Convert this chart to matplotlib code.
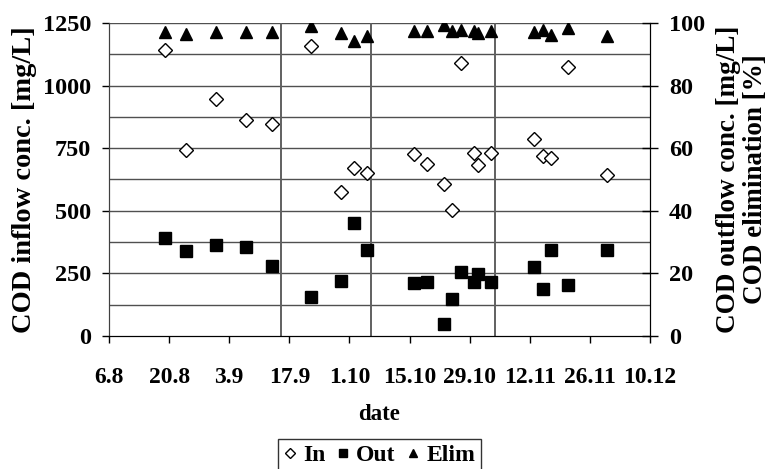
import datetime as dt
import matplotlib
matplotlib.use("Agg")
import matplotlib.pyplot as plt

plt.rcParams['font.family'] = ['Liberation Serif', 'DejaVu Serif']
plt.rcParams['font.weight'] = 'bold'
plt.rcParams['axes.labelweight'] = 'bold'

YEAR = 2003

# sampling dates (day.month) and measured values
dates = ["19.8", "24.8", "31.8", "7.9", "13.9",
         "22.9", "29.9", "2.10", "5.10",
         "16.10", "19.10", "23.10", "25.10", "27.10", "30.10", "31.10", "3.11",
         "13.11", "15.11", "17.11", "21.11", "30.11"]
cod_in = [1143, 741, 946, 863, 847,
          1160, 577, 670, 650,
          727, 688, 606, 504, 1090, 730, 684, 730,
          787, 717, 710, 1076, 644]
cod_out = [31.2, 27.3, 29.1, 28.4, 22.4,
           12.4, 17.7, 36.0, 27.5,
           16.9, 17.1, 3.7, 11.7, 20.6, 17.1, 19.8, 17.4,
           22.2, 14.9, 27.5, 16.3, 27.5]
cod_elim = [97.2, 96.5, 97.2, 97.0, 97.1,
            98.9, 96.8, 94.3, 95.7,
            97.3, 97.3, 99.5, 97.5, 97.9, 97.5, 96.8, 97.3,
            97.0, 97.9, 96.3, 98.4, 95.7]

# phase boundaries drawn as vertical lines
phase_lines = ["15.9", "6.10", "4.11"]

tick_labels = ["6.8", "20.8", "3.9", "17.9", "1.10", "15.10", "29.10",
               "12.11", "26.11", "10.12"]


def to_date(s):
    d, m = s.split(".")
    return dt.date(YEAR, int(m), int(d))


x = [to_date(s) for s in dates]
ticks = [to_date(s) for s in tick_labels]

fig = plt.figure(figsize=(7.67, 4.69), dpi=100)
ax = fig.add_axes([109 / 767, 1 - 336 / 469, 541 / 767, 313 / 469])
ax2 = ax.twinx()

# grid
for v in range(125, 1251, 125):
    ax.axhline(v, color='#505050', lw=1.0, zorder=0)
for s in phase_lines:
    ax.axvline(to_date(s), color='#606060', lw=1.4, zorder=0)

ax.plot(x, cod_in, linestyle='none', marker='D', ms=7, mfc='white',
        mec='black', mew=1.0, label='In', zorder=3)
ax2.plot(x, cod_out, linestyle='none', marker='s', ms=8.5, color='black',
         label='Out')
ax2.plot(x, cod_elim, linestyle='none', marker='^', ms=9, color='black',
         label='Elim')

ax.set_xlim(ticks[0], ticks[-1])
ax.set_ylim(0, 1250)
ax2.set_ylim(0, 100)
ax.set_xticks(ticks)
ax.set_xticklabels(tick_labels)
ax.set_yticks(range(0, 1251, 250))
ax2.set_yticks(range(0, 101, 20))

ax.tick_params(axis='x', direction='out', length=5, width=1, pad=17,
               labelsize=17)
ax.tick_params(axis='y', direction='out', length=5, width=1, pad=8,
               labelsize=17.5)
ax2.tick_params(axis='y', direction='inout', length=11, width=1, pad=8,
                labelsize=17.5)

for a in (ax, ax2):
    a.spines['top'].set_visible(False)
    a.spines['left'].set_color('#404040')
    a.spines['bottom'].set_color('black')
    a.spines['right'].set_color('black')

ax.set_ylabel('COD inflow conc. [mg/L]', fontsize=20.5, labelpad=4)
ax2.set_ylabel('COD outflow conc. [mg/L]\nCOD elimination [%]', fontsize=19.5,
               labelpad=8, linespacing=1.1)
ax.set_xlabel('date', fontsize=16.5, labelpad=12)

h1, l1 = ax.get_legend_handles_labels()
h2, l2 = ax2.get_legend_handles_labels()
leg = fig.legend(h1 + h2, l1 + l2, loc='upper center',
                 bbox_to_anchor=(379.5 / 767, 1 - 439 / 469), ncol=3,
                 prop={'size': 17, 'weight': 'bold'}, frameon=True,
                 fancybox=False, markerscale=0.7, handlelength=0.5,
                 handletextpad=0.3, columnspacing=0.5, borderpad=0.25,
                 borderaxespad=0)
leg.get_frame().set_edgecolor('black')
leg.get_frame().set_linewidth(1.0)

fig.savefig('out.png', dpi=100)
